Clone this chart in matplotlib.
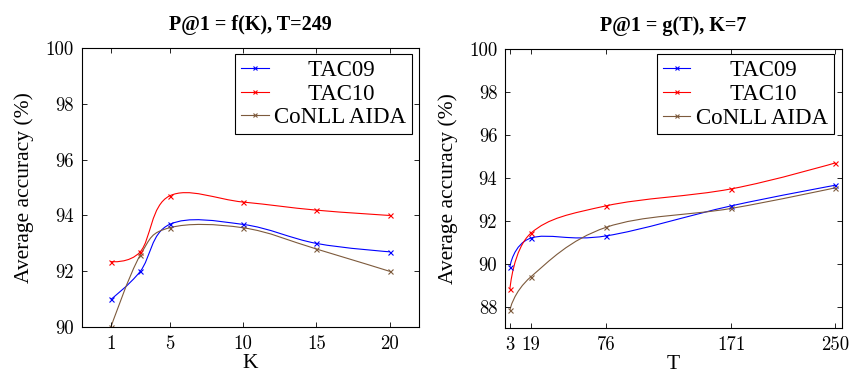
import matplotlib
matplotlib.use("Agg")
import matplotlib.pyplot as plt
from matplotlib.path import Path
from matplotlib.patches import PathPatch
from matplotlib.lines import Line2D

# left panel: P@1 = f(K), T=249
k_vals = [1, 3, 5, 10, 15, 20]
k_ticks = [1, 5, 10, 15, 20]
k_tac09 = [91.0, 92.0, 93.68, 93.68, 93.0, 92.7]
k_tac10 = [92.35, 92.7, 94.7, 94.48, 94.19, 94.0]
k_conll = [90.0, 92.58, 93.56, 93.56, 92.8, 92.0]

# right panel: P@1 = g(T), K=7
t_vals = [3, 19, 76, 171, 250]
t_ticks = [3, 19, 76, 171, 250]
t_tac09 = [89.86, 91.2, 91.3, 92.7, 93.66]
t_tac10 = [88.82, 91.43, 92.7, 93.49, 94.7]
t_conll = [87.85, 89.4, 91.7, 92.58, 93.54]

names = ["TAC09", "TAC10", "CoNLL AIDA"]
colors = ["#0000ff", "#ff0000", "#7d5a3c"]

TICK_FONT = "cmr10"
TEXT_FONT = "Liberation Serif"


def smooth_path(xs, ys, tension=0.55):
    # pgf-style smooth curve: cubic bezier, tangent = tension/3 * (next - prev)
    t = tension / 3.0
    pts = list(zip(xs, ys))
    verts = [pts[0]]
    codes = [Path.MOVETO]
    out_ctrl = pts[0]
    for i in range(1, len(pts)):
        px, py = pts[i]
        if i < len(pts) - 1:
            vx = t * (pts[i + 1][0] - pts[i - 1][0])
            vy = t * (pts[i + 1][1] - pts[i - 1][1])
        else:
            vx, vy = 0.0, 0.0
        verts += [out_ctrl, (px - vx, py - vy), (px, py)]
        codes += [Path.CURVE4] * 3
        out_ctrl = (px + vx, py + vy)
    return Path(verts, codes)


def draw_panel(ax, xs, xticks, series, title, xlabel, xlim, ylim, yticks, legend_anchor):
    for ys, c in zip(series, colors):
        ax.add_patch(PathPatch(smooth_path(xs, ys), facecolor="none",
                               edgecolor=c, lw=0.8))
        ax.plot(xs, ys, linestyle="none", marker="x", color=c,
                markersize=3.6, markeredgewidth=0.8)
    ax.set_xlim(*xlim)
    ax.set_ylim(*ylim)
    ax.set_xticks(xticks)
    ax.set_xticklabels([str(v) for v in xticks], fontfamily=TICK_FONT, fontsize=13.5)
    ax.set_yticks(yticks)
    ax.set_yticklabels([str(v) for v in yticks], fontfamily=TICK_FONT, fontsize=13.5)
    ax.tick_params(direction="in", top=True, right=True, length=3.5,
                   width=0.6, pad=5.5)
    for sp in ax.spines.values():
        sp.set_linewidth(0.8)
    ax.set_title(title, fontfamily=TEXT_FONT, fontweight="bold",
                 fontsize=14.5, pad=13)
    ax.set_xlabel(xlabel, fontfamily=TEXT_FONT, fontsize=15.5, labelpad=1)
    ax.set_ylabel("Average accuracy (%)", fontfamily=TEXT_FONT,
                  fontsize=15.5, labelpad=8)

    handles = [Line2D([], [], color=c, lw=0.8, marker="x", markersize=3,
                      markeredgewidth=0.8) for c in colors]
    # pad shorter labels so they look centred like the pgfplots legend
    labels = ["      " + names[0], "      " + names[1], names[2]]
    leg = ax.legend(handles, labels, loc="upper right",
                    bbox_to_anchor=legend_anchor, borderaxespad=0,
                    prop={"family": TEXT_FONT, "size": 16.5},
                    fancybox=False, framealpha=1, edgecolor="black",
                    borderpad=0.25, labelspacing=0.12, handlelength=1.2,
                    handletextpad=0.25)
    leg.get_frame().set_linewidth(0.8)


fig = plt.figure(figsize=(8.52, 3.74), dpi=100)
W, H = 852.0, 374.0
ax1 = fig.add_axes([81.5 / W, 1 - 327.3 / H, 337 / W, 279.6 / H])
ax2 = fig.add_axes([505 / W, 1 - 328.3 / H, 337 / W, 279.3 / H])

draw_panel(ax1, k_vals, k_ticks, [k_tac09, k_tac10, k_conll], "P@1 = f(K), T=249", "K",
           (-1.0, 21.95), (90, 100), [90, 92, 94, 96, 98, 100], (0.981, 0.977))
draw_panel(ax2, t_vals, t_ticks, [t_tac09, t_tac10, t_conll], "P@1 = g(T), K=7", "T",
           (-0.7, 255), (87, 100), [88, 90, 92, 94, 96, 98, 100], (0.976, 0.981))

fig.savefig("out.png", dpi=100)
